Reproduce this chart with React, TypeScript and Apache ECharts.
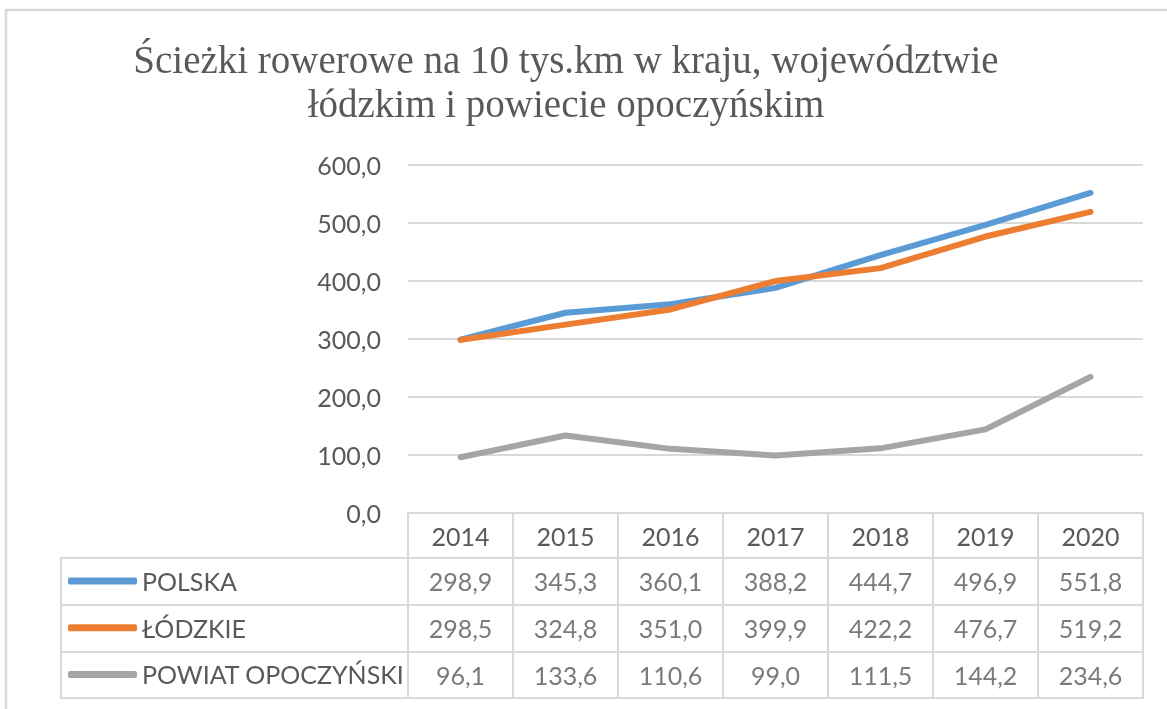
import { useEffect, useRef } from 'react';
import * as echarts from 'echarts';

const years = ['2014', '2015', '2016', '2017', '2018', '2019', '2020'];
const polska = [298.9, 345.3, 360.1, 388.2, 444.7, 496.9, 551.8];
const lodzkie = [298.5, 324.8, 351.0, 399.9, 422.2, 476.7, 519.2];
const powiat = [96.1, 133.6, 110.6, 99.0, 111.5, 144.2, 234.6];
const seriesNames = ['POLSKA', 'ŁÓDZKIE', 'POWIAT OPOCZYŃSKI'];
const colors = ['#5B9BD5', '#ED7D31', '#A5A5A5'];
const titleText = 'Ścieżki rowerowe na 10 tys.km w kraju, województwie\nłódzkim i powiecie opoczyńskim';

const fmt = (v: number) => Number(v).toFixed(1).replace('.', ',');

export default function App() {
  const ref = useRef<HTMLDivElement>(null);
  useEffect(() => {
    const chart = echarts.init(ref.current!, null, { renderer: 'svg' });
    const values = [polska, lodzkie, powiat];
    const grey = '#595959';
    const line = '#d9d9d9';
    const font = 'Lato';
    const fs = 25;
    const tableData: any[] = [];
    values.forEach((arr, r) => arr.forEach((v, i) => tableData.push([years[i], seriesNames[r], v])));
    const rowSplit = { show: true, interval: 0, lineStyle: { color: line, width: 2 } };
    chart.setOption({
      animation: false,
      graphic: [
        { type: 'rect', shape: { x: 6, y: 10, width: 1300, height: 900 }, style: { fill: 'none', stroke: line, lineWidth: 2.5 }, silent: true },
      ],
      title: {
        text: titleText, left: 566, top: 37, padding: 0, textAlign: 'center',
        textStyle: { fontFamily: 'Liberation Serif', fontSize: 39, fontWeight: 'normal', color: grey, lineHeight: 44 },
      },
      legend: {
        data: seriesNames, orient: 'vertical', left: 68, top: 566, padding: 0, itemGap: 16.7,
        itemWidth: 69, itemHeight: 7, icon: 'roundRect', selectedMode: false,
        textStyle: { fontFamily: font, fontSize: fs, color: grey, lineHeight: 30 },
      },
      grid: [
        { left: 408, right: 24, top: 165, height: 348 },
        { left: 408, right: 24, top: 558, height: 140, show: true, borderColor: line, borderWidth: 2 },
        { left: 61, width: 347, top: 558, height: 140, show: true, borderColor: line, borderWidth: 2 },
      ],
      xAxis: [
        {
          gridIndex: 0, type: 'category', data: years, boundaryGap: true,
          axisLine: { lineStyle: { color: line, width: 2 } },
          axisTick: { show: true, length: 45, interval: 0, lineStyle: { color: line, width: 2 } },
          axisLabel: { margin: 10, fontFamily: font, fontSize: fs, color: grey, interval: 0 },
          splitLine: { show: false },
        },
        {
          gridIndex: 1, type: 'category', data: years, boundaryGap: true,
          axisLine: { show: false }, axisTick: { show: false }, axisLabel: { show: false },
          splitLine: rowSplit,
        },
        { gridIndex: 2, type: 'value', show: false, min: 0, max: 1 },
      ],
      yAxis: [
        {
          gridIndex: 0, type: 'value', min: 0, max: 600, interval: 100,
          axisLine: { show: false }, axisTick: { show: false },
          axisLabel: { formatter: fmt, margin: 27, fontFamily: font, fontSize: fs, color: grey },
          splitLine: { lineStyle: { color: line, width: 2 } },
        },
        {
          gridIndex: 1, type: 'category', data: seriesNames, inverse: true,
          axisLine: { show: false }, axisTick: { show: false }, axisLabel: { show: false },
          splitLine: rowSplit,
        },
        {
          gridIndex: 2, type: 'category', data: seriesNames, inverse: true,
          axisLine: { show: false }, axisTick: { show: false }, axisLabel: { show: false },
          splitLine: rowSplit,
        },
      ],
      series: [
        ...values.map((arr, r) => ({
          name: seriesNames[r], type: 'line', xAxisIndex: 0, yAxisIndex: 0, data: arr,
          symbol: 'none', color: colors[r],
          lineStyle: { width: 6, color: colors[r], cap: 'round', join: 'round' }, z: 3,
        })),
        {
          name: 'table', type: 'scatter', xAxisIndex: 1, yAxisIndex: 1, data: tableData,
          symbolSize: 1, itemStyle: { color: 'transparent' }, silent: true,
          label: {
            show: true, position: 'inside', formatter: (p: any) => fmt(p.value[2]),
            fontFamily: font, fontSize: fs, color: grey,
          },
        },
      ],
    });
    return () => chart.dispose();
  }, []);
  return <div ref={ref} style={{ position: 'fixed', left: 0, top: 0, width: 1167, height: 709 }} />;
}
